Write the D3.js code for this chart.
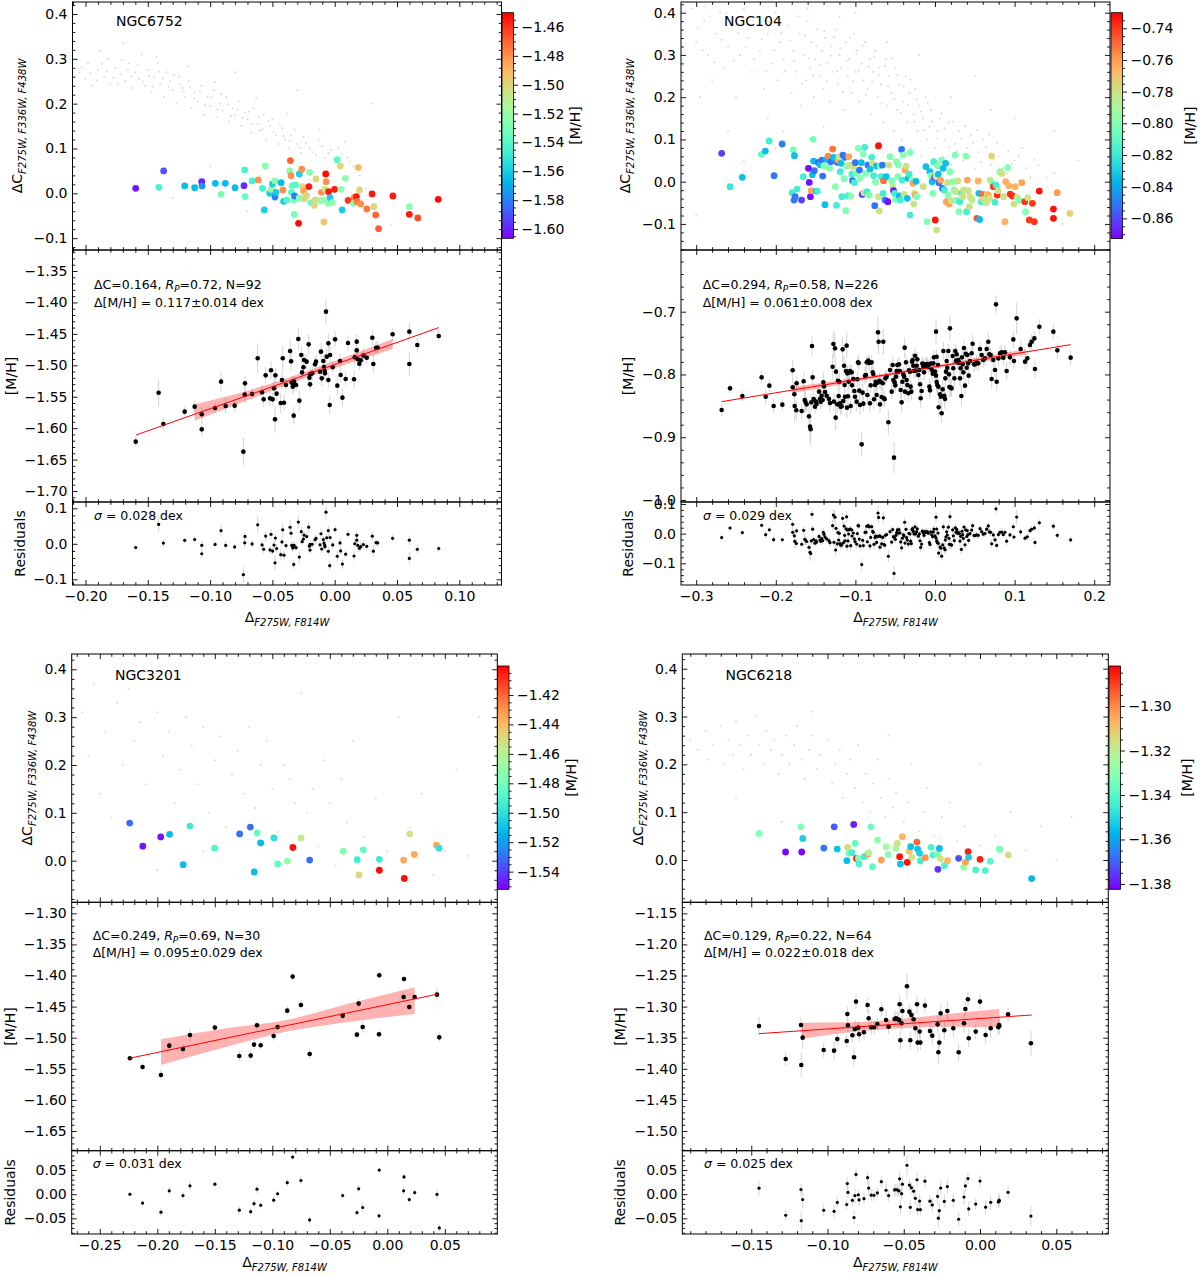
<!DOCTYPE html>
<html>
<head>
<meta charset="utf-8">
<title>ΔC, [M/H] and residuals for four clusters</title>
<style>
  body { margin: 0; background: #fff; }
</style>
</head>
<body>
<script src="https://cdn.jsdelivr.net/npm/d3@7/dist/d3.min.js"></script>
<script>
// ---------------- values ----------------
// top panels, coloured stars: [Δ F275W,F814W , ΔC , [M/H] shown by colour]
var a_top = [[-0.1597,0.0112,-1.603],[-0.1411,0.0134,-1.545],[-0.1373,0.0499,-1.59],[-0.1204,0.0164,-1.565],[-0.1124,0.0126,-1.565],[-0.1067,0.026,-1.6],[-0.1064,0.0164,-1.575],[-0.0958,0.0223,-1.565],[-0.0912,-0.0022,-1.53],[-0.0878,0.0223,-1.565],[-0.08,0.0126,-1.565],[-0.0728,0.0171,-1.598],[-0.0723,0.0521,-1.545],[-0.072,-0.0074,-1.535],[-0.0663,0.0275,-1.545],[-0.0614,0.0298,-1.48],[-0.0579,0.0112,-1.545],[-0.0565,-0.0372,-1.56],[-0.0556,0.061,-1.525],[-0.0522,0.0,-1.56],[-0.0508,0.0089,-1.515],[-0.0499,0.0208,-1.56],[-0.0479,0.0275,-1.525],[-0.0479,-0.0082,-1.58],[-0.0471,0.0022,-1.56],[-0.043,0.0238,-1.565],[-0.0416,0.0074,-1.48],[-0.041,-0.0179,-1.56],[-0.0385,-0.0149,-1.54],[-0.0362,0.0499,-1.525],[-0.0356,0.0729,-1.47],[-0.035,0.0394,-1.48],[-0.0347,0.0022,-1.54],[-0.0342,0.0171,-1.535],[-0.033,-0.0156,-1.53],[-0.0324,-0.0469,-1.53],[-0.0322,-0.006,-1.58],[-0.0313,0.0186,-1.54],[-0.029,-0.067,-1.452],[-0.0284,0.0432,-1.56],[-0.0284,-0.0104,-1.525],[-0.0264,0.0536,-1.48],[-0.0258,0.0149,-1.5],[-0.025,0.0052,-1.485],[-0.0244,-0.0119,-1.5],[-0.0227,-0.0052,-1.5],[-0.0207,0.0149,-1.455],[-0.0201,0.0469,-1.525],[-0.0193,-0.0208,-1.535],[-0.0164,-0.0268,-1.5],[-0.0155,-0.0149,-1.5],[-0.015,0.032,-1.5],[-0.0112,-0.0164,-1.525],[-0.0107,0.0022,-1.48],[-0.0092,-0.0149,-1.52],[-0.0086,-0.064,-1.495],[-0.0078,0.0089,-1.505],[-0.0072,0.0432,-1.452],[-0.0069,0.026,-1.48],[-0.0055,-0.0223,-1.525],[-0.0049,0.0037,-1.455],[-0.0038,-0.0097,-1.56],[-0.0021,-0.0208,-1.525],[-0.0001,0.0089,-1.455],[0.002,0.0751,-1.54],[0.0045,0.061,-1.5],[0.0051,0.0089,-1.525],[0.006,-0.0372,-1.56],[0.0086,0.0335,-1.525],[0.0108,-0.0156,-1.46],[0.0151,-0.0223,-1.525],[0.0157,-0.0089,-1.48],[0.0174,-0.0074,-1.455],[0.018,-0.0186,-1.475],[0.0189,0.0573,-1.49],[0.02,0.0074,-1.5],[0.0209,-0.0238,-1.48],[0.0258,-0.035,-1.475],[0.03,-0.0015,-1.455],[0.0315,-0.0298,-1.5],[0.0329,-0.0484,-1.47],[0.0352,-0.0789,-1.47],[0.0467,-0.006,-1.455],[0.0599,-0.0298,-1.525],[0.0599,-0.0469,-1.455],[0.0667,-0.0551,-1.465],[0.0831,-0.0134,-1.452]];

var b_top = [[-0.268,0.0671,-0.861],[-0.2574,-0.0118,-0.822],[-0.242,0.0103,-0.834],[-0.218,0.0647,-0.81],[-0.2132,0.0726,-0.834],[-0.2084,0.0963,-0.818],[-0.2021,0.0142,-0.851],[-0.192,0.0892,-0.848],[-0.1795,-0.026,-0.818],[-0.1781,0.075,-0.805],[-0.1766,0.0615,-0.834],[-0.1771,-0.0434,-0.851],[-0.1757,-0.0355,-0.851],[-0.1733,-0.0174,-0.818],[-0.1676,-0.0434,-0.861],[-0.1656,0.0118,-0.818],[-0.159,0.0316,-0.87],[-0.158,-0.0016,-0.87],[-0.1565,-0.0355,-0.87],[-0.1555,-0.0213,-0.762],[-0.1541,0.0166,-0.834],[-0.1531,0.1002,-0.805],[-0.1526,0.0489,-0.834],[-0.1516,0.026,-0.851],[-0.1493,-0.0221,-0.834],[-0.1478,-0.0221,-0.818],[-0.1468,0.0458,-0.851],[-0.1444,0.0402,-0.834],[-0.142,0.0513,-0.851],[-0.1411,0.0134,-0.851],[-0.1396,0.0379,-0.801],[-0.1382,-0.0544,-0.834],[-0.1363,0.0529,-0.834],[-0.1343,0.0607,-0.755],[-0.1324,0.0316,-0.801],[-0.131,0.0473,-0.851],[-0.1286,0.0773,-0.752],[-0.1276,0.0576,-0.834],[-0.1252,-0.0118,-0.801],[-0.1238,-0.056,-0.818],[-0.1228,0.0458,-0.851],[-0.1218,0.0513,-0.762],[-0.1204,0.0592,-0.78],[-0.119,0.0237,-0.818],[-0.118,0.0434,-0.834],[-0.117,-0.0355,-0.818],[-0.1156,0.0631,-0.851],[-0.1142,0.0071,-0.801],[-0.1132,0.0576,-0.851],[-0.1122,-0.0686,-0.801],[-0.1108,0.0371,-0.801],[-0.1093,-0.0331,-0.818],[-0.1084,0.0592,-0.762],[-0.1074,0.0394,-0.78],[-0.106,-0.0339,-0.801],[-0.1045,0.0181,-0.818],[-0.1036,0.0024,-0.851],[-0.1026,0.0355,-0.78],[-0.1012,-0.0024,-0.818],[-0.1002,0.045,-0.851],[-0.0988,0.0197,-0.801],[-0.0963,0.0789,-0.801],[-0.0949,0.0276,-0.851],[-0.0939,0.0087,-0.801],[-0.0925,0.045,-0.834],[-0.0915,-0.03,-0.861],[-0.0901,0.0655,-0.801],[-0.0892,-0.026,-0.78],[-0.0882,0.0813,-0.818],[-0.0868,0.0197,-0.801],[-0.0853,-0.0237,-0.818],[-0.0843,0.0394,-0.851],[-0.0829,-0.0316,-0.801],[-0.0815,0.03,-0.834],[-0.0795,0.0576,-0.818],[-0.0786,0.0434,-0.78],[-0.0771,0.0142,-0.818],[-0.0757,-0.0568,-0.851],[-0.0747,-0.0008,-0.801],[-0.0733,0.0371,-0.834],[-0.0718,0.0828,-0.801],[-0.0709,0.0852,-0.733],[-0.0709,-0.0355,-0.78],[-0.0699,-0.0694,-0.78],[-0.069,0.0371,-0.801],[-0.0675,0.0118,-0.818],[-0.0661,0.0394,-0.851],[-0.0651,-0.0276,-0.818],[-0.0647,0.0024,-0.75],[-0.0627,-0.0434,-0.851],[-0.0613,0.0118,-0.834],[-0.0593,-0.0473,-0.87],[-0.0579,0.0394,-0.78],[-0.0565,0.0592,-0.801],[-0.0545,0.0024,-0.801],[-0.0531,-0.0118,-0.785],[-0.0521,-0.0213,-0.87],[-0.0507,-0.0276,-0.818],[-0.0497,-0.0418,-0.801],[-0.0483,0.0473,-0.801],[-0.0468,0.0118,-0.801],[-0.0459,0.0394,-0.801],[-0.0449,-0.0339,-0.834],[-0.0435,-0.0434,-0.818],[-0.042,0.0765,-0.851],[-0.0411,0.0039,-0.818],[-0.0401,0.0631,-0.801],[-0.0387,-0.03,-0.78],[-0.0377,0.0276,-0.762],[-0.0363,0.0371,-0.78],[-0.0348,-0.0394,-0.834],[-0.0339,0.0079,-0.834],[-0.0324,0.0181,-0.818],[-0.0314,-0.0789,-0.818],[-0.0314,0.0686,-0.801],[-0.029,0.0039,-0.801],[-0.0276,-0.0039,-0.762],[-0.0266,-0.0529,-0.78],[-0.0257,-0.0276,-0.78],[-0.0247,-0.0323,-0.762],[-0.0238,0.0008,-0.834],[-0.0228,-0.0355,-0.801],[-0.0146,-0.0118,-0.78],[-0.0113,0.0355,-0.834],[-0.0099,-0.0947,-0.801],[-0.0064,0.0237,-0.834],[-0.005,0.0142,-0.801],[-0.0036,0.0,-0.834],[-0.0026,-0.0276,-0.801],[-0.0016,0.0473,-0.818],[-0.0002,0.0103,-0.87],[0.0003,-0.0907,-0.733],[0.0012,0.0118,-0.78],[0.0022,-0.1144,-0.78],[0.0032,0.0379,-0.801],[0.0041,0.0181,-0.834],[0.0051,-0.0024,-0.851],[0.007,0.0039,-0.762],[0.0085,0.0513,-0.801],[0.0094,-0.0158,-0.851],[0.0103,0.0316,-0.834],[0.0118,-0.0197,-0.818],[0.0133,0.0434,-0.834],[0.0142,-0.0473,-0.762],[0.0157,-0.0024,-0.78],[0.0166,-0.0316,-0.801],[0.0176,-0.0529,-0.762],[0.019,0.0237,-0.801],[0.0205,-0.045,-0.78],[0.0224,0.0,-0.801],[0.0238,-0.0197,-0.801],[0.0253,0.0631,-0.801],[0.0263,-0.0237,-0.78],[0.0272,-0.0434,-0.801],[0.0286,0.0016,-0.78],[0.0301,-0.071,-0.801],[0.0311,-0.0473,-0.818],[0.0335,-0.0276,-0.818],[0.0349,-0.0355,-0.78],[0.0359,-0.0197,-0.78],[0.0387,0.0607,-0.801],[0.0397,-0.071,-0.818],[0.0407,0.0039,-0.762],[0.0416,-0.0213,-0.78],[0.0431,-0.0592,-0.78],[0.044,-0.0355,-0.78],[0.0455,-0.0394,-0.78],[0.0464,-0.0434,-0.785],[0.0527,-0.0868,-0.745],[0.0541,0.0016,-0.765],[0.0551,-0.0276,-0.834],[0.0561,-0.0892,-0.834],[0.058,-0.0473,-0.818],[0.0599,-0.03,-0.75],[0.0609,-0.0418,-0.78],[0.0647,-0.0497,-0.78],[0.0657,-0.03,-0.78],[0.0671,-0.0316,-0.765],[0.0686,-0.0394,-0.78],[0.0695,0.0039,-0.78],[0.071,0.0607,-0.775],[0.0719,-0.0039,-0.801],[0.0734,-0.0118,-0.74],[0.0753,-0.0489,-0.818],[0.0767,-0.0079,-0.818],[0.0782,-0.0316,-0.738],[0.0791,-0.0213,-0.78],[0.0815,0.0237,-0.801],[0.0839,0.0197,-0.78],[0.0863,-0.0355,-0.78],[0.0878,-0.0947,-0.765],[0.0888,0.0,-0.765],[0.0912,0.0331,-0.801],[0.0926,-0.0095,-0.765],[0.0945,-0.0292,-0.738],[0.0974,-0.0339,-0.738],[0.0993,-0.0529,-0.78],[0.1008,-0.0118,-0.765],[0.1032,-0.0371,-0.78],[0.1056,-0.0434,-0.801],[0.109,-0.0024,-0.762],[0.1128,-0.0473,-0.74],[0.1137,-0.071,-0.801],[0.1166,-0.0379,-0.78],[0.1185,-0.0907,-0.74],[0.1224,-0.0513,-0.74],[0.1248,-0.0947,-0.74],[0.131,-0.0221,-0.733],[0.1488,-0.0647,-0.733],[0.1488,-0.0868,-0.733],[0.1536,-0.026,-0.76],[0.1695,-0.075,-0.775]];

var c_top = [[-0.224,0.0786,-1.53],[-0.2126,0.0303,-1.548],[-0.197,0.0497,-1.548],[-0.1893,0.0552,-1.512],[-0.1775,-0.0083,-1.512],[-0.1716,0.0724,-1.495],[-0.1501,0.0262,-1.49],[-0.1284,0.0559,-1.53],[-0.1191,0.0703,-1.53],[-0.1157,-0.0234,-1.512],[-0.1132,0.0579,-1.485],[-0.1101,0.0372,-1.512],[-0.0986,0.0476,-1.5],[-0.0952,-0.0069,-1.485],[-0.0868,-0.0007,-1.47],[-0.0821,0.0276,-1.403],[-0.075,0.0476,-1.455],[-0.0675,0.0014,-1.53],[-0.0383,0.02,-1.475],[-0.0262,0.0021,-1.495],[-0.0247,-0.0297,-1.45],[-0.0209,0.0228,-1.485],[-0.0069,0.0028,-1.495],[-0.0069,-0.02,-1.403],[0.0142,0.0014,-1.435],[0.0148,-0.0372,-1.403],[0.0195,0.0559,-1.455],[0.0235,0.0131,-1.435],[0.0428,0.0324,-1.435],[0.045,0.0262,-1.5]];

var d_top = [[-0.1448,0.0556,-1.332],[-0.1275,0.0167,-1.381],[-0.1174,0.0694,-1.332],[-0.1169,0.0167,-1.381],[-0.1162,0.0451,-1.352],[-0.1024,0.025,-1.367],[-0.0956,0.0694,-1.37],[-0.0936,0.0229,-1.355],[-0.0873,-0.0014,-1.355],[-0.0868,0.0264,-1.315],[-0.0861,0.0139,-1.332],[-0.0841,0.0153,-1.344],[-0.0828,0.0743,-1.379],[-0.0818,0.0347,-1.338],[-0.081,0.0035,-1.284],[-0.0798,0.0035,-1.332],[-0.0793,-0.0083,-1.342],[-0.076,0.0069,-1.344],[-0.0735,0.0125,-1.302],[-0.073,0.0153,-1.322],[-0.0715,0.0694,-1.335],[-0.0705,-0.0139,-1.338],[-0.0672,0.0417,-1.33],[-0.0647,0.0,-1.304],[-0.0615,0.0278,-1.325],[-0.0602,0.0118,-1.332],[-0.0552,0.0243,-1.325],[-0.0542,0.0347,-1.317],[-0.0527,0.0069,-1.284],[-0.0522,-0.0083,-1.355],[-0.0509,0.0486,-1.307],[-0.0477,-0.0049,-1.284],[-0.0464,0.0181,-1.31],[-0.0454,0.0278,-1.355],[-0.0447,0.0056,-1.317],[-0.0414,0.0375,-1.295],[-0.0409,0.0229,-1.355],[-0.0396,0.0139,-1.352],[-0.0391,-0.0021,-1.344],[-0.0359,0.0049,-1.302],[-0.0321,0.0264,-1.342],[-0.0309,0.0104,-1.342],[-0.0279,0.0125,-1.332],[-0.0276,-0.0194,-1.376],[-0.0266,0.0243,-1.355],[-0.0259,0.0021,-1.317],[-0.0233,-0.0118,-1.342],[-0.0213,-0.0014,-1.307],[-0.014,0.0035,-1.372],[-0.0108,-0.0153,-1.328],[-0.0095,-0.0049,-1.304],[-0.0078,0.0174,-1.286],[-0.0075,0.0056,-1.352],[-0.0028,-0.0208,-1.342],[0.0,0.0014,-1.286],[0.0035,-0.0222,-1.342],[0.0068,-0.0028,-1.34],[0.0126,0.0229,-1.332],[0.0131,0.0222,-1.332],[0.0186,0.0104,-1.315],[0.0339,-0.0389,-1.357]];

// faint grey background stars in the top panels: [Δ, ΔC]
var a_bg = [[-0.205,0.27],[-0.2,0.255],[-0.198,0.29],[-0.195,0.24],[-0.19,0.275],[-0.185,0.26],[-0.182,0.3],[-0.18,0.245],[-0.176,0.28],[-0.172,0.265],[-0.17,0.335],[-0.168,0.25],[-0.165,0.29],[-0.162,0.235],[-0.16,0.27],[-0.157,0.255],[-0.155,0.31],[-0.152,0.24],[-0.15,0.275],[-0.147,0.225],[-0.145,0.26],[-0.142,0.29],[-0.14,0.245],[-0.137,0.215],[-0.135,0.27],[-0.132,0.25],[-0.13,0.23],[-0.127,0.2],[-0.125,0.26],[-0.122,0.235],[-0.12,0.215],[-0.117,0.25],[-0.115,0.19],[-0.112,0.225],[-0.11,0.205],[-0.107,0.24],[-0.105,0.175],[-0.102,0.215],[-0.1,0.195],[-0.097,0.23],[-0.095,0.17],[-0.092,0.2],[-0.09,0.185],[-0.087,0.215],[-0.085,0.16],[-0.082,0.19],[-0.08,0.175],[-0.077,0.205],[-0.075,0.15],[-0.072,0.18],[-0.07,0.165],[-0.067,0.135],[-0.065,0.19],[-0.062,0.155],[-0.06,0.14],[-0.057,0.175],[-0.055,0.12],[-0.052,0.15],[-0.05,0.165],[-0.047,0.13],[-0.045,0.11],[-0.042,0.145],[-0.04,0.12],[-0.037,0.1],[-0.035,0.13],[-0.03,0.11],[-0.027,0.09],[-0.025,0.125],[-0.02,0.1],[-0.015,0.085],[-0.01,0.105],[-0.005,0.09],[0.0,0.07],[0.003,0.1],[0.01,0.08],[0.015,0.06],[-0.11,0.02],[-0.09,0.0],[-0.13,-0.01],[-0.07,-0.04],[0.03,0.2],[-0.03,0.23],[-0.08,0.27],[0.02,0.04],[0.045,-0.07],
  [-0.208,0.262],[-0.203,0.281],[-0.196,0.268],[-0.191,0.252],[-0.187,0.289],[-0.183,0.272],[-0.178,0.258],[-0.174,0.243],[-0.171,0.297],[-0.166,0.276],[-0.163,0.261],[-0.158,0.287],[-0.154,0.249],[-0.149,0.262],[-0.146,0.238],[-0.141,0.271],[-0.138,0.256],[-0.133,0.238],[-0.129,0.264],[-0.124,0.243],[-0.121,0.227],[-0.116,0.236],[-0.113,0.211],[-0.108,0.228],[-0.104,0.197],[-0.099,0.214],[-0.094,0.187],[-0.091,0.221],[-0.086,0.198],[-0.083,0.172],[-0.078,0.187],[-0.074,0.168],[-0.069,0.182],[-0.066,0.154],[-0.061,0.171],[-0.058,0.143],[-0.053,0.161],[-0.049,0.137],[-0.044,0.153],[-0.041,0.128],[-0.036,0.117],[-0.032,0.141],[-0.028,0.101],[-0.023,0.113],[-0.018,0.092],[-0.013,0.118],[-0.008,0.079],[-0.003,0.097],[0.006,0.088],[0.012,0.071],[-0.188,0.318],[-0.143,0.305],[-0.118,0.283],[-0.096,0.248],[-0.063,0.212],[-0.038,0.178],[-0.012,0.142],[0.008,0.115],[-0.1,0.06],[-0.06,0.04],[-0.02,0.03],[0.025,0.01]];

var b_bg = [[-0.305,0.41],[-0.29,0.38],[-0.3,0.33],[-0.285,0.3],[-0.27,0.4],[-0.275,0.35],[-0.26,0.32],[-0.265,0.27],[-0.25,0.37],[-0.245,0.3],[-0.24,0.41],[-0.235,0.34],[-0.23,0.26],[-0.225,0.39],[-0.22,0.31],[-0.215,0.22],[-0.21,0.35],[-0.205,0.28],[-0.2,0.4],[-0.198,0.24],[-0.195,0.33],[-0.19,0.29],[-0.185,0.37],[-0.18,0.21],[-0.178,0.31],[-0.175,0.26],[-0.17,0.35],[-0.168,0.18],[-0.165,0.3],[-0.162,0.24],[-0.16,0.38],[-0.157,0.27],[-0.155,0.33],[-0.152,0.2],[-0.15,0.29],[-0.148,0.36],[-0.145,0.25],[-0.142,0.31],[-0.14,0.22],[-0.138,0.34],[-0.135,0.28],[-0.132,0.19],[-0.13,0.32],[-0.128,0.26],[-0.125,0.36],[-0.122,0.23],[-0.12,0.3],[-0.118,0.27],[-0.115,0.17],[-0.112,0.33],[-0.11,0.25],[-0.108,0.29],[-0.105,0.21],[-0.102,0.35],[-0.1,0.26],[-0.098,0.31],[-0.095,0.19],[-0.092,0.28],[-0.09,0.24],[-0.088,0.33],[-0.085,0.22],[-0.082,0.29],[-0.08,0.16],[-0.078,0.26],[-0.075,0.31],[-0.072,0.2],[-0.07,0.27],[-0.068,0.23],[-0.065,0.14],[-0.062,0.29],[-0.06,0.18],[-0.058,0.25],[-0.055,0.21],[-0.052,0.12],[-0.05,0.27],[-0.048,0.17],[-0.045,0.23],[-0.042,0.1],[-0.04,0.19],[-0.037,0.25],[-0.035,0.14],[-0.032,0.21],[-0.03,0.08],[-0.027,0.16],[-0.025,0.22],[-0.022,0.12],[-0.02,0.18],[-0.017,0.06],[-0.015,0.15],[-0.012,0.2],[-0.01,0.1],[-0.007,0.13],[-0.005,0.17],[0.0,0.08],[0.003,0.12],[0.006,0.15],[0.01,0.06],[0.013,0.1],[0.017,0.14],[0.02,0.04],[0.025,0.09],[0.03,0.12],[0.035,0.05],[0.04,0.08],[0.045,0.11],[0.05,0.03],[0.055,0.07],[0.06,0.1],[0.07,0.04],[0.08,0.06],[0.09,0.02],[0.1,0.05],[0.11,0.08],[0.12,0.01],[0.13,0.04],[0.15,0.02],[-0.21,0.15],[-0.25,0.2],[-0.28,0.24],[-0.19,0.12],[-0.12,0.39],[-0.06,0.33],[0.02,0.2],[0.07,0.17],[-0.3,-0.08],[-0.24,0.05],[0.16,-0.1],[0.12,-0.05],
  [-0.298,0.365],[-0.292,0.312],[-0.283,0.392],[-0.277,0.283],[-0.268,0.336],[-0.262,0.398],[-0.253,0.286],[-0.247,0.352],[-0.238,0.318],[-0.232,0.382],[-0.227,0.29],[-0.218,0.338],[-0.212,0.262],[-0.207,0.372],[-0.202,0.312],[-0.193,0.352],[-0.188,0.262],[-0.182,0.334],[-0.177,0.286],[-0.172,0.391],[-0.167,0.232],[-0.163,0.346],[-0.158,0.292],[-0.153,0.252],[-0.149,0.322],[-0.144,0.276],[-0.139,0.356],[-0.136,0.238],[-0.131,0.298],[-0.127,0.342],[-0.123,0.262],[-0.119,0.316],[-0.116,0.212],[-0.111,0.286],[-0.107,0.342],[-0.103,0.238],[-0.099,0.302],[-0.096,0.262],[-0.091,0.322],[-0.087,0.206],[-0.083,0.272],[-0.079,0.236],[-0.076,0.296],[-0.071,0.252],[-0.067,0.186],[-0.063,0.274],[-0.059,0.226],[-0.054,0.292],[-0.051,0.196],[-0.047,0.252],[-0.043,0.162],[-0.039,0.226],[-0.034,0.182],[-0.031,0.242],[-0.026,0.142],[-0.023,0.196],[-0.018,0.166],[-0.014,0.122],[-0.009,0.186],[-0.004,0.142],[0.002,0.102],[0.008,0.162],[0.012,0.126],[0.018,0.082],[0.023,0.142],[0.028,0.072],[0.033,0.102],[0.038,0.132],[0.043,0.058],[0.048,0.092],[0.053,0.122],[0.058,0.046],[0.064,0.082],[0.068,0.112],[0.074,0.052],[0.078,0.092],[0.085,0.032],[0.092,0.072],[0.097,0.042],[0.105,0.062],[0.115,0.032],[0.125,0.052],[0.14,0.01],[-0.295,0.2],[-0.26,0.12],[-0.2,0.08],[-0.14,0.13],[-0.1,0.4],[-0.02,0.3],[0.05,0.25],[0.1,0.15],[0.15,0.12],[0.18,0.05],[-0.29,0.415],[-0.22,0.418],[-0.16,0.41]];

var c_bg = [[-0.265,0.31],[-0.26,0.22],[-0.255,0.37],[-0.25,0.14],[-0.245,0.27],[-0.24,0.09],[-0.235,0.33],[-0.23,0.2],[-0.225,0.36],[-0.22,0.25],[-0.215,0.29],[-0.21,0.16],[-0.2,0.31],[-0.195,0.22],[-0.19,0.27],[-0.185,0.12],[-0.18,0.19],[-0.175,0.3],[-0.17,0.24],[-0.165,0.16],[-0.16,0.28],[-0.155,0.1],[-0.15,0.21],[-0.145,0.26],[-0.14,0.07],[-0.135,0.18],[-0.13,0.23],[-0.125,0.14],[-0.12,0.28],[-0.115,0.11],[-0.11,0.2],[-0.105,0.25],[-0.1,0.15],[-0.095,0.06],[-0.09,0.2],[-0.085,0.17],[-0.08,0.12],[-0.075,0.35],[-0.07,0.1],[-0.065,0.15],[-0.06,0.03],[-0.055,0.21],[-0.05,0.12],[-0.045,-0.01],[-0.04,0.17],[-0.035,0.08],[-0.03,0.25],[-0.02,0.05],[-0.01,0.13],[0.0,0.02],[0.01,0.3],[0.02,0.07],[0.03,0.14],[0.04,-0.03],[0.05,0.02],[0.06,0.19],[0.07,0.01],[0.08,0.3],[-0.27,0.05],[-0.16,0.02],[-0.2,-0.02]];

var d_bg = [[-0.19,0.25],[-0.185,0.23],[-0.18,0.27],[-0.178,0.21],[-0.175,0.24],[-0.17,0.28],[-0.168,0.2],[-0.165,0.25],[-0.162,0.22],[-0.16,0.29],[-0.157,0.24],[-0.155,0.19],[-0.152,0.26],[-0.15,0.22],[-0.147,0.3],[-0.145,0.24],[-0.142,0.2],[-0.14,0.27],[-0.137,0.23],[-0.135,0.25],[-0.132,0.18],[-0.13,0.22],[-0.127,0.26],[-0.125,0.2],[-0.122,0.24],[-0.12,0.28],[-0.117,0.21],[-0.115,0.17],[-0.112,0.23],[-0.11,0.26],[-0.107,0.19],[-0.105,0.22],[-0.1,0.25],[-0.097,0.16],[-0.095,0.2],[-0.092,0.23],[-0.09,0.13],[-0.087,0.18],[-0.085,0.21],[-0.082,0.15],[-0.08,0.24],[-0.077,0.12],[-0.075,0.18],[-0.072,0.1],[-0.07,0.16],[-0.067,0.21],[-0.065,0.13],[-0.062,0.09],[-0.06,0.17],[-0.057,0.11],[-0.055,0.14],[-0.05,0.08],[-0.047,0.12],[-0.045,0.2],[-0.04,0.06],[-0.037,0.1],[-0.035,0.15],[-0.03,0.05],[-0.025,0.09],[-0.02,0.12],[-0.015,0.04],[-0.01,0.07],[0.0,0.03],[0.01,0.05],[0.02,0.1],[0.03,0.02],[0.04,0.07],[0.05,0.0],[-0.11,0.31],[-0.06,0.26],[-0.13,0.08],[-0.16,0.13],[0.0,0.2],[0.06,0.09]];

// middle panels: [Δ, [M/H], error]
var a_mid = [[-0.1597,-1.6215,0.008],[-0.1413,-1.5436,0.022],[-0.1375,-1.5934,0.01],[-0.1204,-1.5738,0.008],[-0.1124,-1.5658,0.01],[-0.1067,-1.578,0.012],[-0.1067,-1.6019,0.012],[-0.096,-1.568,0.008],[-0.0912,-1.526,0.016],[-0.0875,-1.5648,0.013],[-0.0803,-1.5642,0.01],[-0.0733,-1.6374,0.022],[-0.0722,-1.5467,0.014],[-0.072,-1.5287,0.012],[-0.0663,-1.5457,0.01],[-0.0618,-1.4889,0.024],[-0.0583,-1.543,0.012],[-0.057,-1.5542,0.012],[-0.0554,-1.516,0.013],[-0.0519,-1.5526,0.011],[-0.0511,-1.508,0.014],[-0.0498,-1.5542,0.01],[-0.0487,-1.5367,0.014],[-0.0479,-1.586,0.021],[-0.0476,-1.516,0.012],[-0.0466,-1.5451,0.012],[-0.0433,-1.56,0.016],[-0.0423,-1.5234,0.014],[-0.0417,-1.4889,0.02],[-0.0407,-1.5595,0.014],[-0.0391,-1.5314,0.01],[-0.0358,-1.4773,0.02],[-0.035,-1.4937,0.014],[-0.0345,-1.5276,0.01],[-0.0337,-1.534,0.012],[-0.0329,-1.5801,0.014],[-0.0326,-1.526,0.011],[-0.031,-1.5314,0.01],[-0.0292,-1.4582,0.018],[-0.0284,-1.5563,0.016],[-0.0268,-1.4836,0.014],[-0.0262,-1.5112,0.011],[-0.0251,-1.5032,0.012],[-0.0246,-1.4916,0.01],[-0.0225,-1.4942,0.012],[-0.0209,-1.4667,0.016],[-0.0203,-1.5197,0.01],[-0.0198,-1.5144,0.012],[-0.0198,-1.5303,0.011],[-0.0158,-1.4985,0.012],[-0.015,-1.4942,0.01],[-0.011,-1.4783,0.014],[-0.0104,-1.5208,0.012],[-0.0091,-1.4932,0.01],[-0.0086,-1.5027,0.012],[-0.008,-1.5091,0.01],[-0.0078,-1.5128,0.011],[-0.007,-1.4147,0.021],[-0.0064,-1.4863,0.012],[-0.0051,-1.4651,0.016],[-0.0051,-1.5234,0.012],[-0.004,-1.5632,0.014],[-0.0016,-1.5032,0.01],[0.0003,-1.4587,0.012],[0.0021,-1.5324,0.016],[0.0043,-1.4932,0.012],[0.0048,-1.5155,0.011],[0.0062,-1.5515,0.014],[0.0088,-1.5218,0.01],[0.0107,-1.4645,0.012],[0.0155,-1.5223,0.014],[0.0161,-1.4873,0.012],[0.0177,-1.4762,0.01],[0.0177,-1.4624,0.012],[0.0185,-1.4905,0.011],[0.0198,-1.4974,0.01],[0.0209,-1.4921,0.012],[0.0257,-1.4879,0.01],[0.0302,-1.4561,0.012],[0.031,-1.4979,0.016],[0.0332,-1.472,0.01],[0.0345,-1.472,0.01],[0.0465,-1.4507,0.01],[0.0599,-1.4465,0.014],[0.0599,-1.4979,0.018],[0.0663,-1.4677,0.012],[0.0835,-1.4534,0.01],[-0.018,-1.5128,0.012],[-0.0118,-1.5101,0.01],[-0.0332,-1.5314,0.012],[0.023,-1.4846,0.012],[-0.0037,-1.4836,0.014]];

var b_mid = [[-0.268,-0.8566,0.01],[-0.2575,-0.8221,0.008],[-0.242,-0.8343,0.008],[-0.2178,-0.8046,0.01],[-0.2127,-0.8354,0.012],[-0.2081,-0.8178,0.01],[-0.2027,-0.8502,0.012],[-0.1918,-0.8481,0.01],[-0.1788,-0.7934,0.016],[-0.1788,-0.8205,0.012],[-0.1767,-0.8316,0.02],[-0.1763,-0.8502,0.025],[-0.1742,-0.8571,0.016],[-0.1738,-0.8141,0.012],[-0.1675,-0.8582,0.012],[-0.165,-0.8109,0.014],[-0.1637,-0.8407,0.02],[-0.1629,-0.8433,0.016],[-0.1612,-0.8476,0.012],[-0.1583,-0.8667,0.02],[-0.157,-0.8831,0.025],[-0.1562,-0.8874,0.025],[-0.1554,-0.8444,0.014],[-0.1545,-0.7547,0.016],[-0.1537,-0.8046,0.012],[-0.1524,-0.8391,0.014],[-0.1508,-0.8513,0.012],[-0.1495,-0.8433,0.012],[-0.1487,-0.847,0.01],[-0.1457,-0.8274,0.012],[-0.1445,-0.8391,0.01],[-0.1436,-0.8433,0.012],[-0.1424,-0.8338,0.014],[-0.1411,-0.8407,0.012],[-0.1403,-0.8125,0.016],[-0.1394,-0.8189,0.012],[-0.1382,-0.8279,0.01],[-0.1361,-0.8338,0.012],[-0.1332,-0.8391,0.012],[-0.1319,-0.8454,0.014],[-0.1286,-0.7876,0.02],[-0.1277,-0.7515,0.02],[-0.1269,-0.8433,0.014],[-0.1256,-0.7584,0.025],[-0.1248,-0.8688,0.02],[-0.1244,-0.7955,0.014],[-0.1227,-0.8476,0.014],[-0.1219,-0.8099,0.012],[-0.121,-0.8343,0.012],[-0.1202,-0.8115,0.014],[-0.1193,-0.846,0.012],[-0.1185,-0.8513,0.014],[-0.1173,-0.8507,0.012],[-0.116,-0.76,0.02],[-0.1152,-0.8423,0.012],[-0.1143,-0.786,0.016],[-0.1135,-0.8168,0.012],[-0.1131,-0.8354,0.014],[-0.1118,-0.7945,0.014],[-0.111,-0.7541,0.02],[-0.1106,-0.8529,0.016],[-0.1101,-0.7982,0.012],[-0.1093,-0.8348,0.012],[-0.1085,-0.8115,0.014],[-0.1076,-0.7966,0.012],[-0.1068,-0.7945,0.01],[-0.1059,-0.8502,0.014],[-0.1047,-0.7966,0.012],[-0.1043,-0.8173,0.014],[-0.1026,-0.8072,0.012],[-0.1013,-0.8263,0.014],[-0.1005,-0.8354,0.012],[-0.0984,-0.8433,0.016],[-0.0976,-0.8077,0.012],[-0.0967,-0.7807,0.012],[-0.0959,-0.7817,0.01],[-0.0951,-0.8258,0.014],[-0.0942,-0.8486,0.016],[-0.0921,-0.9113,0.02],[-0.0909,-0.829,0.014],[-0.09,-0.8465,0.012],[-0.0879,-0.8019,0.014],[-0.0867,-0.8008,0.012],[-0.0858,-0.7807,0.01],[-0.085,-0.8327,0.014],[-0.0838,-0.778,0.01],[-0.0825,-0.7817,0.012],[-0.0817,-0.846,0.014],[-0.0808,-0.8173,0.012],[-0.0796,-0.7807,0.012],[-0.0783,-0.7966,0.014],[-0.0775,-0.7993,0.012],[-0.0766,-0.8396,0.016],[-0.0754,-0.8168,0.014],[-0.0745,-0.8115,0.012],[-0.0733,-0.8327,0.014],[-0.0724,-0.8131,0.012],[-0.0716,-0.7329,0.025],[-0.0708,-0.7478,0.02],[-0.0699,-0.8099,0.012],[-0.0691,-0.8476,0.014],[-0.0683,-0.8115,0.012],[-0.067,-0.8359,0.016],[-0.0657,-0.8141,0.012],[-0.0649,-0.7478,0.02],[-0.0641,-0.838,0.014],[-0.0632,-0.8396,0.012],[-0.0624,-0.8062,0.012],[-0.0607,-0.8035,0.01],[-0.0586,-0.8762,0.02],[-0.0565,-0.7929,0.014],[-0.0544,-0.8274,0.012],[-0.0532,-0.7849,0.012],[-0.0523,-0.8088,0.014],[-0.0515,-0.9325,0.025],[-0.0507,-0.8125,0.012],[-0.0498,-0.8173,0.012],[-0.049,-0.8035,0.01],[-0.0482,-0.7945,0.012],[-0.0473,-0.7849,0.01],[-0.0461,-0.7955,0.012],[-0.0452,-0.7839,0.012],[-0.044,-0.7945,0.01],[-0.0431,-0.8247,0.014],[-0.0419,-0.8444,0.016],[-0.041,-0.8115,0.012],[-0.0398,-0.7998,0.012],[-0.0389,-0.8035,0.012],[-0.0381,-0.7573,0.016],[-0.0377,-0.8274,0.014],[-0.0364,-0.7807,0.012],[-0.0356,-0.8088,0.012],[-0.0348,-0.8168,0.012],[-0.0335,-0.83,0.014],[-0.0327,-0.7934,0.01],[-0.0314,-0.7955,0.012],[-0.0306,-0.8194,0.012],[-0.0297,-0.8274,0.014],[-0.0289,-0.7796,0.012],[-0.0281,-0.777,0.012],[-0.0272,-0.786,0.01],[-0.0264,-0.7945,0.012],[-0.0251,-0.7701,0.014],[-0.0243,-0.7939,0.012],[-0.023,-0.786,0.012],[-0.0222,-0.7759,0.012],[-0.0209,-0.8008,0.012],[-0.0197,-0.7929,0.01],[-0.0188,-0.8157,0.014],[-0.018,-0.838,0.016],[-0.0168,-0.8263,0.014],[-0.0159,-0.7828,0.012],[-0.0147,-0.7876,0.012],[-0.0138,-0.7966,0.012],[-0.0126,-0.7839,0.01],[-0.0113,-0.786,0.012],[-0.0105,-0.7839,0.012],[-0.0096,-0.7833,0.01],[-0.0084,-0.7881,0.012],[-0.0071,-0.8194,0.014],[-0.0063,-0.8253,0.014],[-0.0054,-0.7828,0.012],[-0.0042,-0.7924,0.012],[-0.0029,-0.7987,0.012],[-0.0021,-0.7823,0.01],[-0.0013,-0.7727,0.012],[0.0,-0.7955,0.014],[0.0013,-0.7318,0.02],[0.0013,-0.8019,0.014],[0.0021,-0.7717,0.012],[0.0021,-0.812,0.016],[0.0029,-0.8168,0.014],[0.0038,-0.7849,0.012],[0.0042,-0.8194,0.014],[0.0046,-0.8523,0.016],[0.0063,-0.8316,0.016],[0.0075,-0.8354,0.016],[0.0084,-0.8619,0.016],[0.0096,-0.8237,0.014],[0.0105,-0.7626,0.014],[0.0117,-0.8338,0.016],[0.0126,-0.8391,0.016],[0.013,-0.8062,0.014],[0.0138,-0.7955,0.012],[0.0147,-0.7786,0.012],[0.0155,-0.7892,0.012],[0.0168,-0.7626,0.012],[0.0176,-0.7998,0.012],[0.018,-0.82,0.016],[0.0188,-0.7265,0.02],[0.0197,-0.821,0.014],[0.0209,-0.8221,0.014],[0.0222,-0.7706,0.012],[0.023,-0.7902,0.012],[0.0243,-0.8062,0.014],[0.0255,-0.7626,0.012],[0.0264,-0.778,0.012],[0.0272,-0.7679,0.012],[0.0281,-0.7807,0.01],[0.0293,-0.777,0.012],[0.0306,-0.7812,0.012],[0.0314,-0.8062,0.014],[0.0322,-0.7902,0.012],[0.0331,-0.8343,0.016],[0.0339,-0.7727,0.012],[0.0348,-0.7839,0.012],[0.0356,-0.7966,0.012],[0.0364,-0.7579,0.012],[0.0377,-0.8178,0.014],[0.0385,-0.7669,0.012],[0.0398,-0.7892,0.012],[0.0406,-0.769,0.012],[0.0415,-0.7823,0.012],[0.0423,-0.8019,0.014],[0.044,-0.7786,0.012],[0.0461,-0.7663,0.012],[0.0473,-0.751,0.014],[0.049,-0.7839,0.012],[0.0503,-0.7839,0.01],[0.0523,-0.7812,0.012],[0.0544,-0.7823,0.012],[0.0565,-0.7594,0.012],[0.0586,-0.769,0.012],[0.0607,-0.777,0.012],[0.0628,-0.7743,0.012],[0.0649,-0.7594,0.012],[0.067,-0.7478,0.014],[0.0683,-0.7679,0.012],[0.0699,-0.769,0.012],[0.0712,-0.8072,0.014],[0.0733,-0.777,0.012],[0.0754,-0.7929,0.012],[0.0766,-0.6883,0.014],[0.0775,-0.8115,0.014],[0.0796,-0.7743,0.012],[0.0817,-0.7663,0.012],[0.0838,-0.7648,0.012],[0.0858,-0.7732,0.012],[0.0879,-0.7648,0.012],[0.09,-0.7945,0.014],[0.0942,-0.7727,0.012],[0.0984,-0.7441,0.014],[0.0992,-0.7786,0.012],[0.1026,-0.7106,0.025],[0.1076,-0.7594,0.012],[0.1131,-0.7796,0.012],[0.116,-0.7743,0.012],[0.1193,-0.7531,0.012],[0.1214,-0.7478,0.012],[0.1248,-0.7425,0.012],[0.1256,-0.7913,0.014],[0.1311,-0.7239,0.012],[0.1487,-0.7318,0.012],[0.1537,-0.7616,0.012],[0.1704,-0.7732,0.012]];

var c_mid = [[-0.2238,-1.5331,0.005],[-0.2128,-1.5471,0.006],[-0.1968,-1.5599,0.008],[-0.1896,-1.5128,0.008],[-0.1777,-1.5181,0.008],[-0.1716,-1.4956,0.01],[-0.1499,-1.4838,0.005],[-0.1287,-1.5294,0.008],[-0.1188,-1.5288,0.008],[-0.1159,-1.5111,0.008],[-0.1133,-1.4801,0.008],[-0.1101,-1.5122,0.007],[-0.0988,-1.4972,0.008],[-0.0954,-1.4827,0.006],[-0.087,-1.4565,0.008],[-0.0823,-1.4018,0.005],[-0.0751,-1.4474,0.008],[-0.0675,-1.5262,0.008],[-0.0388,-1.4645,0.006],[-0.0264,-1.4951,0.006],[-0.0249,-1.4452,0.008],[-0.0214,-1.4827,0.01],[-0.0072,-1.4945,0.006],[-0.007,-1.3997,0.005],[0.0145,-1.4056,0.006],[0.0142,-1.4345,0.008],[0.0191,-1.4506,0.006],[0.0238,-1.4345,0.006],[0.0432,-1.4308,0.01],[0.0452,-1.4994,0.008]];

var d_mid = [[-0.1449,-1.3311,0.015],[-0.1274,-1.3842,0.012],[-0.1174,-1.3295,0.012],[-0.1172,-1.3938,0.02],[-0.1163,-1.3499,0.018],[-0.1025,-1.3697,0.012],[-0.0957,-1.3708,0.015],[-0.0936,-1.352,0.01],[-0.0874,-1.3553,0.01],[-0.087,-1.3118,0.012],[-0.0866,-1.3301,0.012],[-0.0837,-1.3461,0.012],[-0.0826,-1.3815,0.015],[-0.082,-1.336,0.015],[-0.0813,-1.292,0.012],[-0.0798,-1.3338,0.01],[-0.0793,-1.3445,0.012],[-0.0761,-1.3413,0.012],[-0.0737,-1.2974,0.012],[-0.073,-1.3188,0.015],[-0.0713,-1.3333,0.012],[-0.0695,-1.3333,0.012],[-0.0673,-1.3279,0.01],[-0.0647,-1.3043,0.012],[-0.0616,-1.3215,0.015],[-0.0599,-1.3322,0.012],[-0.0551,-1.3188,0.012],[-0.054,-1.3199,0.012],[-0.0531,-1.3215,0.012],[-0.0527,-1.2963,0.015],[-0.0522,-1.3542,0.015],[-0.0514,-1.3268,0.012],[-0.0509,-1.307,0.015],[-0.0479,-1.2674,0.02],[-0.0463,-1.3081,0.012],[-0.0457,-1.3542,0.015],[-0.045,-1.3134,0.012],[-0.0435,-1.3204,0.012],[-0.0413,-1.2963,0.015],[-0.0409,-1.3579,0.015],[-0.0396,-1.3402,0.015],[-0.0391,-1.3579,0.012],[-0.0361,-1.2984,0.012],[-0.0328,-1.3392,0.012],[-0.0313,-1.3467,0.015],[-0.0278,-1.3285,0.015],[-0.0273,-1.3735,0.018],[-0.0267,-1.3579,0.015],[-0.0258,-1.3108,0.015],[-0.0234,-1.3381,0.015],[-0.0214,-1.307,0.015],[-0.014,-1.3735,0.015],[-0.0105,-1.3268,0.015],[-0.0096,-1.3038,0.012],[-0.0079,-1.2883,0.012],[-0.0074,-1.351,0.015],[-0.0028,-1.3402,0.012],[0.0,-1.292,0.012],[0.0037,-1.3456,0.015],[0.007,-1.3349,0.015],[0.012,-1.3333,0.012],[0.0125,-1.3295,0.015],[0.0184,-1.3124,0.012],[0.0334,-1.359,0.02],[-0.056,-1.3199,0.012],[-0.0424,-1.3349,0.012],[-0.0175,-1.3349,0.015],[0.0127,-1.3311,0.012]];

// fitted line end points [Δ, [M/H]] and confidence band [Δ, low, high]
var a_fit = [[-0.1594,-1.6109],[0.0835,-1.4401]];
var b_fit = [[-0.268,-0.8433],[0.1704,-0.7525]];
var c_fit = [[-0.2243,-1.5331],[0.0432,-1.4302]];
var d_fit = [[-0.1449,-1.3435],[0.0339,-1.3135]];
var a_band = [[-0.1124,-1.5881,-1.5621],[-0.068,-1.5542,-1.5393],[-0.0278,-1.5234,-1.5133],[0.0123,-1.4964,-1.4842],[0.0465,-1.4741,-1.4582]];
var b_band = [[-0.178,-0.8297,-0.8197],[-0.1,-0.8115,-0.8055],[-0.03,-0.7962,-0.7918],[0.04,-0.7825,-0.7765],[0.1143,-0.7686,-0.7596]];
var c_band = [[-0.1968,-1.5438,-1.5026],[-0.1397,-1.5144,-1.4849],[-0.0875,-1.4902,-1.4715],[-0.0325,-1.4742,-1.4447],[0.0238,-1.4618,-1.419]];
var d_band = [[-0.1169,-1.352,-1.3258],[-0.0852,-1.3413,-1.3252],[-0.0525,-1.3349,-1.3199],[-0.0197,-1.3322,-1.3113],[0.0127,-1.3333,-1.3038]];

// colour bar ranges of [M/H]
var a_crange = [-1.6064,-1.4501], b_crange = [-0.8727,-0.7302], c_crange = [-1.552,-1.4003], d_crange = [-1.3824,-1.282];

// annotation values
var clusters = ["NGC6752","NGC104","NGC3201","NGC6218"];
var statDC = ["0.164","0.294","0.249","0.129"];
var statRP = ["0.72","0.58","0.69","0.22"];
var statN = ["92","226","30","64"];
var statDMH = ["0.117±0.014","0.061±0.008","0.095±0.029","0.022±0.018"];
var statSigma = ["0.028","0.029","0.031","0.025"];

// ---------------- layout (pixels) ----------------
var layout = [
  {X:[72.5,501.5], xc:[0,334.7,0.1,459.3], xs:[0.05,0.01,".2f"],
   top:[2,250], tc:[0,193.3,0.4,14], ts:[0.1,0.02,".1f"],
   mid:[250,502], mc:[-1.35,271,-1.70,491], ms:[0.05,0.01,".2f"],
   bot:[502,585], bc:[0.1,508.3,-0.1,579.3], bs:[0.1,0.02,".1f"],
   cb:[502,513.5,12.7,238.3], cbx:566, title:[116,26], ann:[94,289], sig:[94,519.5], xl:622},
  {X:[681,1110], xc:[0,935,0.1,1014.6], xs:[0.1,0.02,".1f"],
   top:[2,250], tc:[0,181.7,0.4,12.7], ts:[0.1,0.02,".1f"],
   mid:[250,502], mc:[-0.7,311.7,-1.0,500], ms:[0.1,0.02,".1f"],
   bot:[502,585], bc:[0.1,504,-0.1,563.3], bs:[0.1,0.02,".1f"],
   cb:[1111,1122.5,12.7,238.5], cbx:1190, title:[724,26], ann:[702.7,289], sig:[703,519.5], xl:622},
  {X:[71.7,497.3], xc:[0,387.3,0.05,444.8], xs:[0.05,0.01,".2f"],
   top:[654,902.3], tc:[0,860.7,0.4,669.3], ts:[0.1,0.02,".1f"],
   mid:[902.3,1150.7], mc:[-1.30,913.3,-1.65,1131], ms:[0.05,0.01,".2f"],
   bot:[1150.7,1234], bc:[0.05,1170,-0.05,1218.3], bs:[0.05,0.01,".2f"],
   cb:[497.5,509,666,889.3], cbx:556, title:[115,680], ann:[92.7,939.5], sig:[92.7,1167.5], xl:1267},
  {X:[682.3,1108.3], xc:[0,980,0.05,1056.25], xs:[0.05,0.01,".2f"],
   top:[654,902.3], tc:[0,860,0.4,668.7], ts:[0.1,0.02,".1f"],
   mid:[902.3,1150.7], mc:[-1.15,913.3,-1.50,1131], ms:[0.05,0.01,".2f"],
   bot:[1150.7,1234], bc:[0.05,1170,-0.05,1218.3], bs:[0.05,0.01,".2f"],
   cb:[1109,1120.5,666,889.3], cbx:1187, title:[725.5,680], ann:[704,939.5], sig:[704,1167.5], xl:1267}
];
var panelData = [
  {top:a_top, bg:a_bg, mid:a_mid, fit:a_fit, band:a_band, cr:a_crange},
  {top:b_top, bg:b_bg, mid:b_mid, fit:b_fit, band:b_band, cr:b_crange},
  {top:c_top, bg:c_bg, mid:c_mid, fit:c_fit, band:c_band, cr:c_crange},
  {top:d_top, bg:d_bg, mid:d_mid, fit:d_fit, band:d_band, cr:d_crange}
];

// ---------------- drawing ----------------
var FONT = "'DejaVu Sans', sans-serif";
var FS = 14;
var svg = d3.select("body").append("svg")
    .attr("width", 1200).attr("height", 1274)
    .style("font-family", FONT);
var defs = svg.append("defs");

// matplotlib "rainbow" colour map
function rainbow(t) {
  t = Math.max(0, Math.min(1, t));
  var r = Math.min(1, Math.abs(2 * t - 0.5)), g = Math.sin(Math.PI * t), b = Math.cos(Math.PI * t / 2);
  return d3.rgb(Math.round(255 * r), Math.round(255 * g), Math.round(255 * Math.max(0, b))).formatHex();
}

function lin(c) { return d3.scaleLinear().domain([c[0], c[2]]).range([c[1], c[3]]); }

function steps(s, p0, p1, step) {
  var a = s.invert(p0), b = s.invert(p1);
  var lo = Math.min(a, b), hi = Math.max(a, b), out = [];
  for (var i = Math.ceil(lo / step - 1e-6); i <= Math.floor(hi / step + 1e-6); i++) out.push(+(i * step).toFixed(6));
  return out;
}
function minorOnly(vals, major) {
  return vals.filter(function (v) { return Math.abs(v / major - Math.round(v / major)) > 1e-4; });
}
function styleAxis(g) {
  g.select(".domain").remove();
  g.attr("font-family", FONT).attr("font-size", FS);
  g.selectAll("line").attr("stroke-width", 0.9);
}
var blank = function () { return ""; };

// ticks on all four sides, inward; returns the labelled left axis
function axesBox(x, y, X, Y, xs, ys, showX) {
  var g = svg.append("g");
  var xM = steps(x, X[0], X[1], xs[0]), xm = minorOnly(steps(x, X[0], X[1], xs[1]), xs[0]);
  var yM = steps(y, Y[0], Y[1], ys[0]), ym = minorOnly(steps(y, Y[0], Y[1], ys[1]), ys[0]);
  g.append("g").attr("transform", "translate(0," + Y[1] + ")")
    .call(d3.axisBottom(x).tickValues(xM).tickSize(-5).tickPadding(6).tickFormat(showX ? d3.format(xs[2]) : blank)).call(styleAxis);
  g.append("g").attr("transform", "translate(0," + Y[1] + ")")
    .call(d3.axisBottom(x).tickValues(xm).tickSize(-2.8).tickFormat(blank)).call(styleAxis);
  g.append("g").attr("transform", "translate(0," + Y[0] + ")")
    .call(d3.axisTop(x).tickValues(xM).tickSize(-5).tickFormat(blank)).call(styleAxis);
  g.append("g").attr("transform", "translate(0," + Y[0] + ")")
    .call(d3.axisTop(x).tickValues(xm).tickSize(-2.8).tickFormat(blank)).call(styleAxis);
  var left = g.append("g").attr("transform", "translate(" + X[0] + ",0)")
    .call(d3.axisLeft(y).tickValues(yM).tickSize(-5).tickPadding(5).tickFormat(d3.format(ys[2])));
  left.call(styleAxis);
  g.append("g").attr("transform", "translate(" + X[0] + ",0)")
    .call(d3.axisLeft(y).tickValues(ym).tickSize(-2.8).tickFormat(blank)).call(styleAxis);
  g.append("g").attr("transform", "translate(" + X[1] + ",0)")
    .call(d3.axisRight(y).tickValues(yM).tickSize(-5).tickFormat(blank)).call(styleAxis);
  g.append("g").attr("transform", "translate(" + X[1] + ",0)")
    .call(d3.axisRight(y).tickValues(ym).tickSize(-2.8).tickFormat(blank)).call(styleAxis);
  g.append("rect").attr("x", X[0]).attr("y", Y[0]).attr("width", X[1] - X[0]).attr("height", Y[1] - Y[0])
    .attr("fill", "none").attr("stroke", "#000").attr("stroke-width", 1);
  return left;
}

// rotated y label placed just left of the tick labels
function yLabel(leftAxis, yc, build) {
  var edge = leftAxis.node().getBoundingClientRect().left;
  var t = svg.append("text").attr("text-anchor", "middle").attr("font-size", 14)
    .attr("transform", "translate(0," + yc + ") rotate(-90)");
  build(t);
  var r = t.node().getBoundingClientRect();
  t.attr("transform", "translate(" + (edge - 6 - r.right) + "," + yc + ") rotate(-90)");
}

function errBars(g, pts, x, y, vy) {
  g.selectAll("line").data(pts).join("line")
    .attr("x1", function (d) { return x(d[0]); }).attr("x2", function (d) { return x(d[0]); })
    .attr("y1", function (d) { return y(vy(d) - d[2]); }).attr("y2", function (d) { return y(vy(d) + d[2]); })
    .attr("stroke", "#d4d4d4").attr("stroke-width", 1);
}

layout.forEach(function (L, k) {
  var P = panelData[k];
  var x = lin(L.xc);
  var yT = lin(L.tc), yM = lin(L.mc), yB = lin(L.bc);
  var colour = d3.scaleSequential(rainbow).domain(P.cr).clamp(true);
  var slope = (P.fit[1][1] - P.fit[0][1]) / (P.fit[1][0] - P.fit[0][0]);
  function fitAt(v) { return P.fit[0][1] + slope * (v - P.fit[0][0]); }
  function mhOf(d) { return d[1]; }
  function resOf(d) { return d[1] - fitAt(d[0]); }

  // --- top: ΔC map
  svg.append("g").selectAll("circle").data(P.bg).join("circle")
    .attr("cx", function (d) { return x(d[0]); }).attr("cy", function (d) { return yT(d[1]); })
    .attr("r", 0.95).attr("fill", "#a8a8a8").attr("opacity", 0.45);
  svg.append("g").selectAll("circle").data(P.top).join("circle")
    .attr("cx", function (d) { return x(d[0]); }).attr("cy", function (d) { return yT(d[1]); })
    .attr("r", 3.4).attr("fill", function (d) { return colour(d[2]); });
  var lt = axesBox(x, yT, L.X, L.top, L.xs, L.ts, false);
  yLabel(lt, (L.top[0] + L.top[1]) / 2, function (t) {
    t.append("tspan").text("ΔC");
    t.append("tspan").attr("font-style", "italic").attr("font-size", 10).attr("dy", 4).text("F275W, F336W, F438W");
  });
  svg.append("text").attr("x", L.title[0]).attr("y", L.title[1]).attr("font-size", 14).text(clusters[k]);

  // colour bar
  var gid = "cbar" + k;
  var grad = defs.append("linearGradient").attr("id", gid).attr("x1", 0).attr("y1", 1).attr("x2", 0).attr("y2", 0);
  d3.range(0, 1.0001, 1 / 32).forEach(function (t) {
    grad.append("stop").attr("offset", t).attr("stop-color", rainbow(t));
  });
  var cb = L.cb;
  svg.append("rect").attr("x", cb[0]).attr("y", cb[2]).attr("width", cb[1] - cb[0]).attr("height", cb[3] - cb[2])
    .attr("fill", "url(#" + gid + ")").attr("stroke", "#000").attr("stroke-width", 0.8);
  var cS = d3.scaleLinear().domain(P.cr).range([cb[3], cb[2]]);
  var cM = steps(cS, cb[3], cb[2], 0.02), cm = minorOnly(steps(cS, cb[3], cb[2], 0.005), 0.02);
  var cAxis = svg.append("g").attr("transform", "translate(" + cb[1] + ",0)")
    .call(d3.axisRight(cS).tickValues(cM).tickSize(4.5).tickPadding(3.5).tickFormat(d3.format(".2f")));
  cAxis.call(styleAxis);
  svg.append("g").attr("transform", "translate(" + cb[1] + ",0)")
    .call(d3.axisRight(cS).tickValues(cm).tickSize(2.5).tickFormat(blank)).call(styleAxis);
  var cyc = (cb[2] + cb[3]) / 2;
  var cl = svg.append("text").attr("text-anchor", "middle").attr("font-size", 14)
    .attr("transform", "translate(0," + cyc + ") rotate(-90)").text("[M/H]");
  var cr = cl.node().getBoundingClientRect();
  var tickRight = cAxis.node().getBoundingClientRect().right;
  var dx = Math.max(L.cbx - (cr.left + cr.right) / 2, tickRight + 3 - cr.left);
  cl.attr("transform", "translate(" + dx + "," + cyc + ") rotate(-90)");

  // --- middle: [M/H] against Δ
  var gm = svg.append("g");
  errBars(gm.append("g"), P.mid, x, yM, mhOf);
  gm.append("path").datum(P.band)
    .attr("d", d3.area().x(function (d) { return x(d[0]); }).y0(function (d) { return yM(d[1]); }).y1(function (d) { return yM(d[2]); }).curve(d3.curveMonotoneX))
    .attr("fill", "#ff0000").attr("fill-opacity", 0.3);
  gm.append("g").selectAll("circle").data(P.mid).join("circle")
    .attr("cx", function (d) { return x(d[0]); }).attr("cy", function (d) { return yM(d[1]); })
    .attr("r", 2.3).attr("fill", "#000");
  gm.append("path").datum(P.fit)
    .attr("d", d3.line().x(function (d) { return x(d[0]); }).y(function (d) { return yM(d[1]); }))
    .attr("stroke", "#ff0000").attr("stroke-width", 1).attr("fill", "none");
  var lm = axesBox(x, yM, L.X, L.mid, L.xs, L.ms, false);
  yLabel(lm, (L.mid[0] + L.mid[1]) / 2, function (t) { t.text("[M/H]"); });
  var ann = svg.append("text").attr("x", L.ann[0]).attr("y", L.ann[1]).attr("font-size", 12.5);
  ann.append("tspan").text("ΔC=" + statDC[k] + ", ");
  ann.append("tspan").attr("font-style", "italic").text("R");
  ann.append("tspan").attr("font-style", "italic").attr("font-size", 9).attr("dy", 3).text("P");
  ann.append("tspan").attr("dy", -3).text("=" + statRP[k] + ", N=" + statN[k]);
  svg.append("text").attr("x", L.ann[0]).attr("y", L.ann[1] + 17.5).attr("font-size", 12.5)
    .text("Δ[M/H] = " + statDMH[k] + " dex");

  // --- bottom: residuals
  var gb = svg.append("g");
  errBars(gb.append("g"), P.mid, x, yB, resOf);
  gb.append("g").selectAll("circle").data(P.mid).join("circle")
    .attr("cx", function (d) { return x(d[0]); }).attr("cy", function (d) { return yB(resOf(d)); })
    .attr("r", 1.6).attr("fill", "#000");
  var lb = axesBox(x, yB, L.X, L.bot, L.xs, L.bs, true);
  yLabel(lb, (L.bot[0] + L.bot[1]) / 2, function (t) { t.text("Residuals"); });
  var sg = svg.append("text").attr("x", L.sig[0]).attr("y", L.sig[1]).attr("font-size", 12.5);
  sg.append("tspan").attr("font-style", "italic").text("σ");
  sg.append("tspan").text(" = " + statSigma[k] + " dex");

  var xlab = svg.append("text").attr("x", (L.X[0] + L.X[1]) / 2).attr("y", L.xl)
    .attr("text-anchor", "middle").attr("font-size", 14);
  xlab.append("tspan").text("Δ");
  xlab.append("tspan").attr("font-style", "italic").attr("font-size", 10).attr("dy", 3.5).text("F275W, F814W");
});
</script>
</body>
</html>
